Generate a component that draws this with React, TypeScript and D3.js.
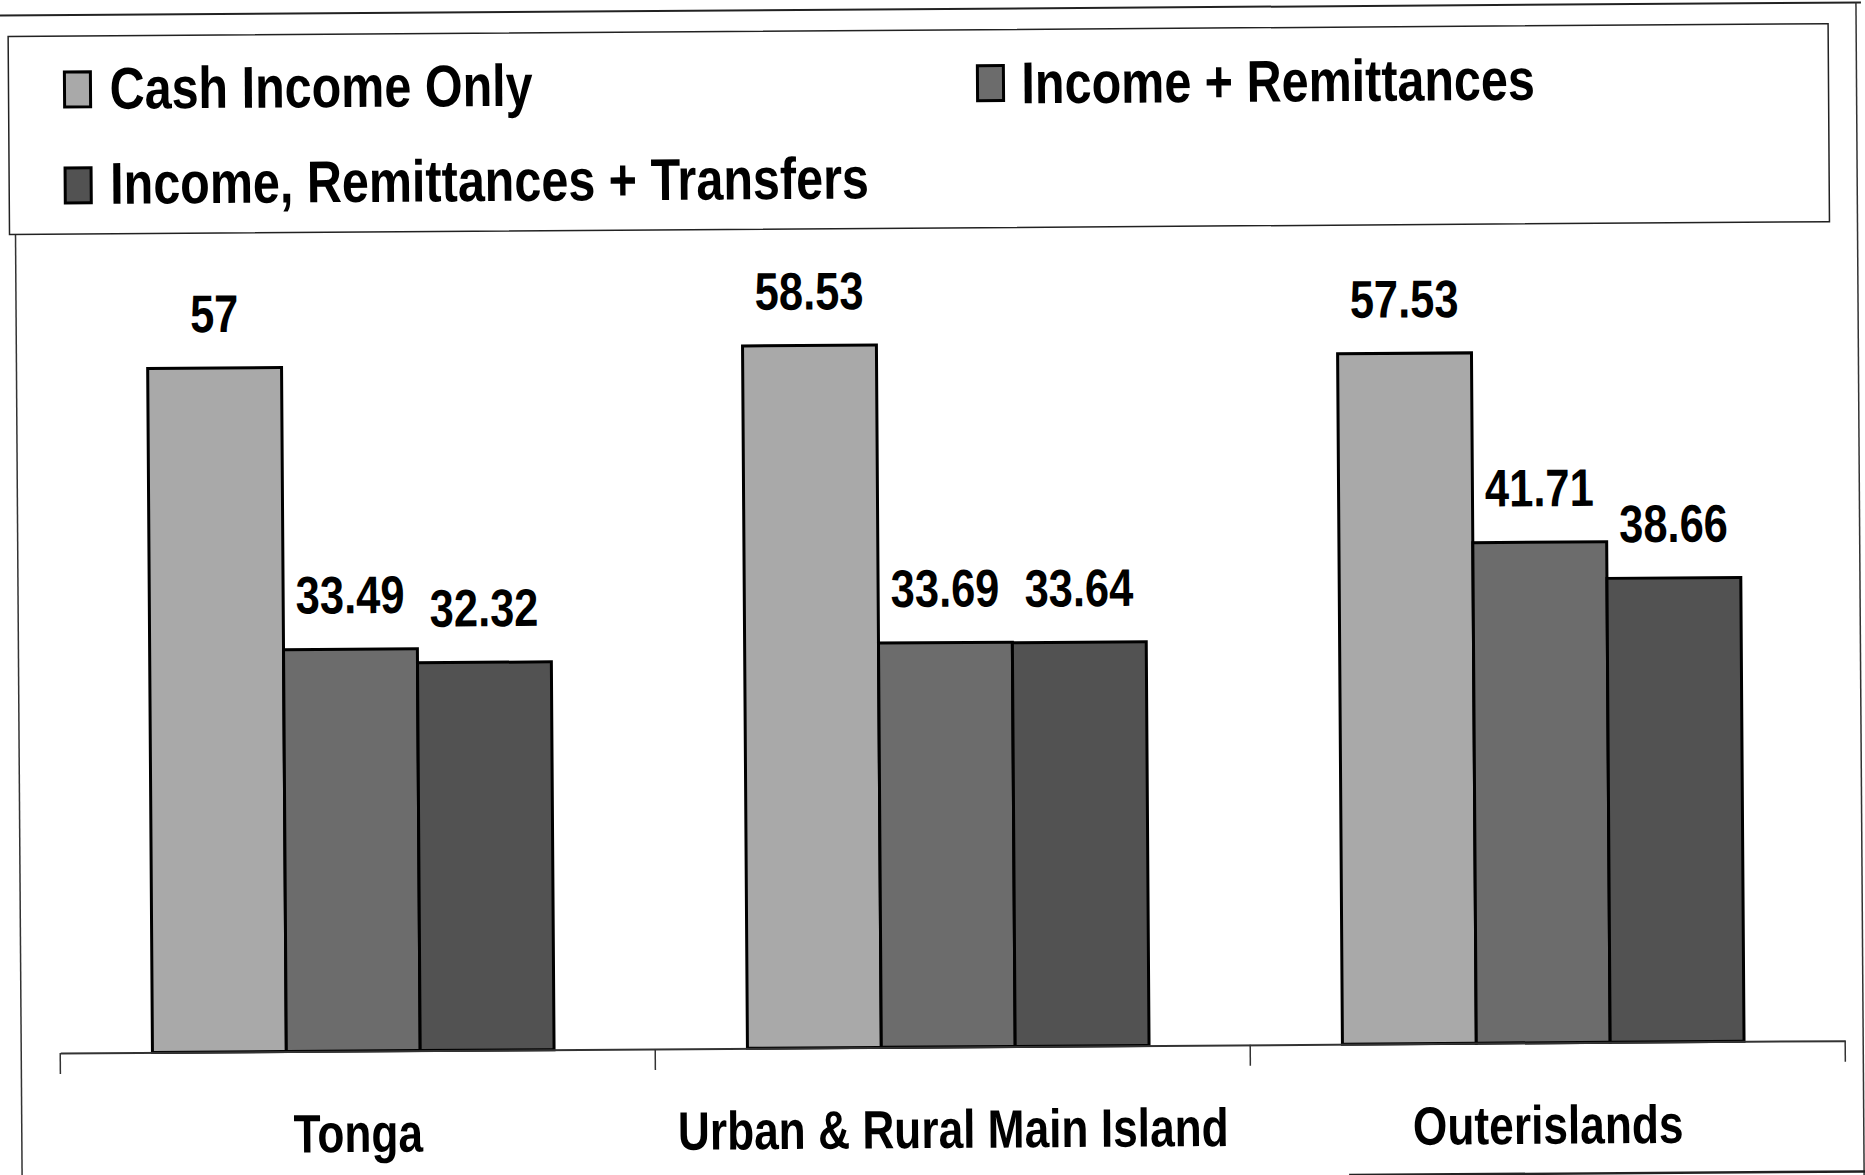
import React, { useEffect, useRef } from "react";
import * as d3 from "d3";

const categories = ["Tonga", "Urban & Rural Main Island", "Outerislands"];
const seriesNames = [
  "Cash Income Only",
  "Income + Remittances",
  "Income, Remittances + Transfers",
];
const cashIncomeOnly = [57, 58.53, 57.53];
const incomeRemittances = [33.49, 33.69, 41.71];
const incomeRemittancesTransfers = [32.32, 33.64, 38.66];
const seriesColors = ["#a9a9a9", "#6c6c6c", "#525252"];

const W = 1865;
const H = 1175;
// no Arial Narrow here, so squeeze Liberation Sans Bold sideways
const FONT = "'Liberation Sans', Arial, sans-serif";
const NARROW = 0.82;

function App() {
  const svgRef = useRef<SVGSVGElement | null>(null);

  useEffect(() => {
    document.body.style.margin = "0";
    const svg = d3.select(svgRef.current);
    svg.selectAll("*").remove();

    const values = [cashIncomeOnly, incomeRemittances, incomeRemittancesTransfers];
    const rows = categories.map((c, i) => ({
      category: c,
      values: seriesNames.map((s, j) => ({ key: s, value: values[j][i], color: seriesColors[j] })),
    }));

    // slight tilt from the scan
    const root = svg.append("g").attr("transform", `rotate(-0.4, ${W / 2}, ${H / 2})`);

    // page frame lines
    root.append("line").attr("x1", 0).attr("x2", W).attr("y1", 9).attr("y2", 9)
      .attr("stroke", "#222").attr("stroke-width", 2);
    root.append("line").attr("x1", 18).attr("x2", 18).attr("y1", 228).attr("y2", H + 10)
      .attr("stroke", "#333").attr("stroke-width", 1.5);
    root.append("line").attr("x1", 1860).attr("x2", 1860).attr("y1", 9).attr("y2", H + 10)
      .attr("stroke", "#333").attr("stroke-width", 1.5);
    root.append("line").attr("x1", 1345).attr("x2", W).attr("y1", 1178).attr("y2", 1178)
      .attr("stroke", "#222").attr("stroke-width", 2.5);

    // legend box
    root.append("rect").attr("x", 12).attr("y", 30).attr("width", 1820).attr("height", 198)
      .attr("fill", "none").attr("stroke", "#222").attr("stroke-width", 1.5);

    const legendPos = [
      { x: 68, y: 66, tx: 113, ty: 103 },
      { x: 981, y: 66, tx: 1025, ty: 104 },
      { x: 68, y: 162, tx: 113, ty: 198 },
    ];
    const legend = root.append("g")
      .selectAll("g")
      .data(seriesNames)
      .join("g");
    legend.append("rect")
      .attr("x", (d, i) => legendPos[i].x)
      .attr("y", (d, i) => legendPos[i].y)
      .attr("width", 26)
      .attr("height", 35)
      .attr("fill", (d, i) => seriesColors[i])
      .attr("stroke", "#000")
      .attr("stroke-width", 3);
    legend.append("text")
      .attr("transform", (d, i) => `translate(${legendPos[i].tx},${legendPos[i].ty}) scale(0.822,1)`)
      .attr("font-family", FONT)
      .attr("font-weight", "bold")
      .attr("font-size", 59)
      .attr("fill", "#000")
      .text((d) => d);

    // scales
    const baseline = 1047;
    const x0 = d3.scaleBand().domain(categories).range([57, 1842]);
    const bw = x0.bandwidth();
    const x1 = d3.scaleBand().domain(seriesNames).range([bw * 0.155, bw * 0.83]);
    const y = d3.scaleLinear().domain([0, 70]).range([baseline, baseline - 840]);

    const groups = root.append("g")
      .selectAll("g")
      .data(rows)
      .join("g")
      .attr("transform", (d) => `translate(${x0(d.category)},0)`);

    groups.selectAll("rect")
      .data((d) => d.values)
      .join("rect")
      .attr("x", (d) => x1(d.key)!)
      .attr("y", (d) => y(d.value))
      .attr("width", x1.bandwidth())
      .attr("height", (d) => y(0) - y(d.value))
      .attr("fill", (d) => d.color)
      .attr("stroke", "#000")
      .attr("stroke-width", 3);

    groups.selectAll("text")
      .data((d) => d.values)
      .join("text")
      .attr("transform", (d) =>
        `translate(${x1(d.key)! + x1.bandwidth() / 2},${y(d.value) - 36}) scale(${NARROW},1)`)
      .attr("text-anchor", "middle")
      .attr("font-family", FONT)
      .attr("font-weight", "bold")
      .attr("font-size", 53)
      .attr("fill", "#000")
      .text((d) => String(d.value));

    // category axis
    const xAxis = root.append("g")
      .attr("transform", `translate(0,${baseline})`)
      .call(d3.axisBottom(x0).tickSize(0).tickPadding(0));
    xAxis.select(".domain").attr("stroke", "#333").attr("stroke-width", 2);
    xAxis.selectAll(".tick text")
      .attr("font-family", FONT)
      .attr("font-weight", "bold")
      .attr("font-size", 54)
      .attr("fill", "#000")
      .attr("dy", 0)
      .attr("y", 0)
      .attr("transform", `translate(0,101) scale(${NARROW},1)`);

    // boundary ticks between categories
    const bounds = [...categories.map((c) => x0(c)!), x0.range()[1]];
    root.append("g")
      .selectAll("line")
      .data(bounds)
      .join("line")
      .attr("x1", (d) => d)
      .attr("x2", (d) => d)
      .attr("y1", baseline)
      .attr("y2", baseline + 21)
      .attr("stroke", "#333")
      .attr("stroke-width", 1.5);
  }, []);

  return (
    <svg ref={svgRef} width={W} height={H} style={{ display: "block", background: "#fff" }} />
  );
}

export default App;
